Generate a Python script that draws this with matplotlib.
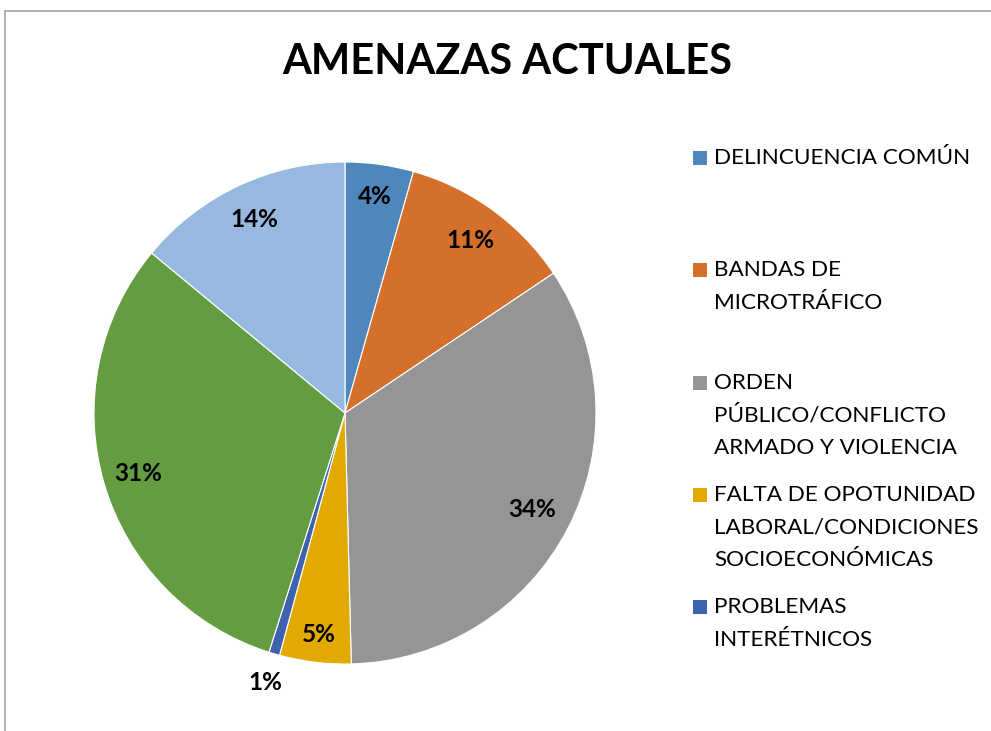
import numpy as np
import matplotlib.pyplot as plt
from matplotlib.patches import Rectangle

plt.rcParams['font.family'] = ['Lato', 'DejaVu Sans']

# datos (porcentajes)
categorias = ['DELINCUENCIA COMÚN',
              'BANDAS DE\nMICROTRÁFICO',
              'ORDEN\nPÚBLICO/CONFLICTO\nARMADO Y VIOLENCIA',
              'FALTA DE OPOTUNIDAD\nLABORAL/CONDICIONES\nSOCIOECONÓMICAS',
              'PROBLEMAS\nINTERÉTNICOS',
              'OTROS 1',
              'OTROS 2']
valores = [4.4, 11.2, 34.0, 4.6, 0.7, 31.1, 14.0]
colores = ['#4F87BC', '#D5702C', '#959595', '#E2AA00', '#3E63AE', '#639C41', '#97B9E0']
n_leyenda = 5  # la leyenda original solo muestra 5

W, H = 991, 731
fig = plt.figure(figsize=(W/100, H/100), dpi=100)

# marco del grafico
fig.patches.append(Rectangle((5/W, -0.05), 1.2, 1 - 11/H + 0.05, transform=fig.transFigure,
                             fill=False, edgecolor='#a6a6a6', linewidth=1.2))

cx, cy, R = 345, 413, 251
ax = fig.add_axes([(cx-R)/W, (H-cy-R)/H, 2*R/W, 2*R/H])
wedges, _ = ax.pie(valores, colors=colores, startangle=90, counterclock=False,
                   radius=1, wedgeprops=dict(edgecolor='white', linewidth=0.8))
ax.set_xlim(-1, 1)
ax.set_ylim(-1, 1)
ax.set_aspect('equal')

dist = [0.87, 0.85, 0.84, 0.89, 1.12, 0.86, 0.85]
for w, v, d in zip(wedges, valores, dist):
    ang = np.deg2rad((w.theta1 + w.theta2) / 2)
    ax.text(d*np.cos(ang), d*np.sin(ang), '%.0f%%' % v, ha='center', va='center',
            fontsize=17.5, fontweight='bold', color='black')

fig.text(507/W, 1 - 62/H, 'AMENAZAS ACTUALES', ha='center', va='center',
         fontsize=30, fontweight='bold')

# leyenda manual
y0 = 158
for i in range(n_leyenda):
    y = y0 + i*112.3
    fig.patches.append(Rectangle((693/W, 1 - (y+7)/H), 14/W, 14/H, transform=fig.transFigure,
                                 facecolor=colores[i], edgecolor='none'))
    fig.text(714/W, 1 - (y-10)/H, categorias[i], ha='left', va='top',
             fontsize=16.2, linespacing=1.77)

fig.savefig('out.png', dpi=100)
